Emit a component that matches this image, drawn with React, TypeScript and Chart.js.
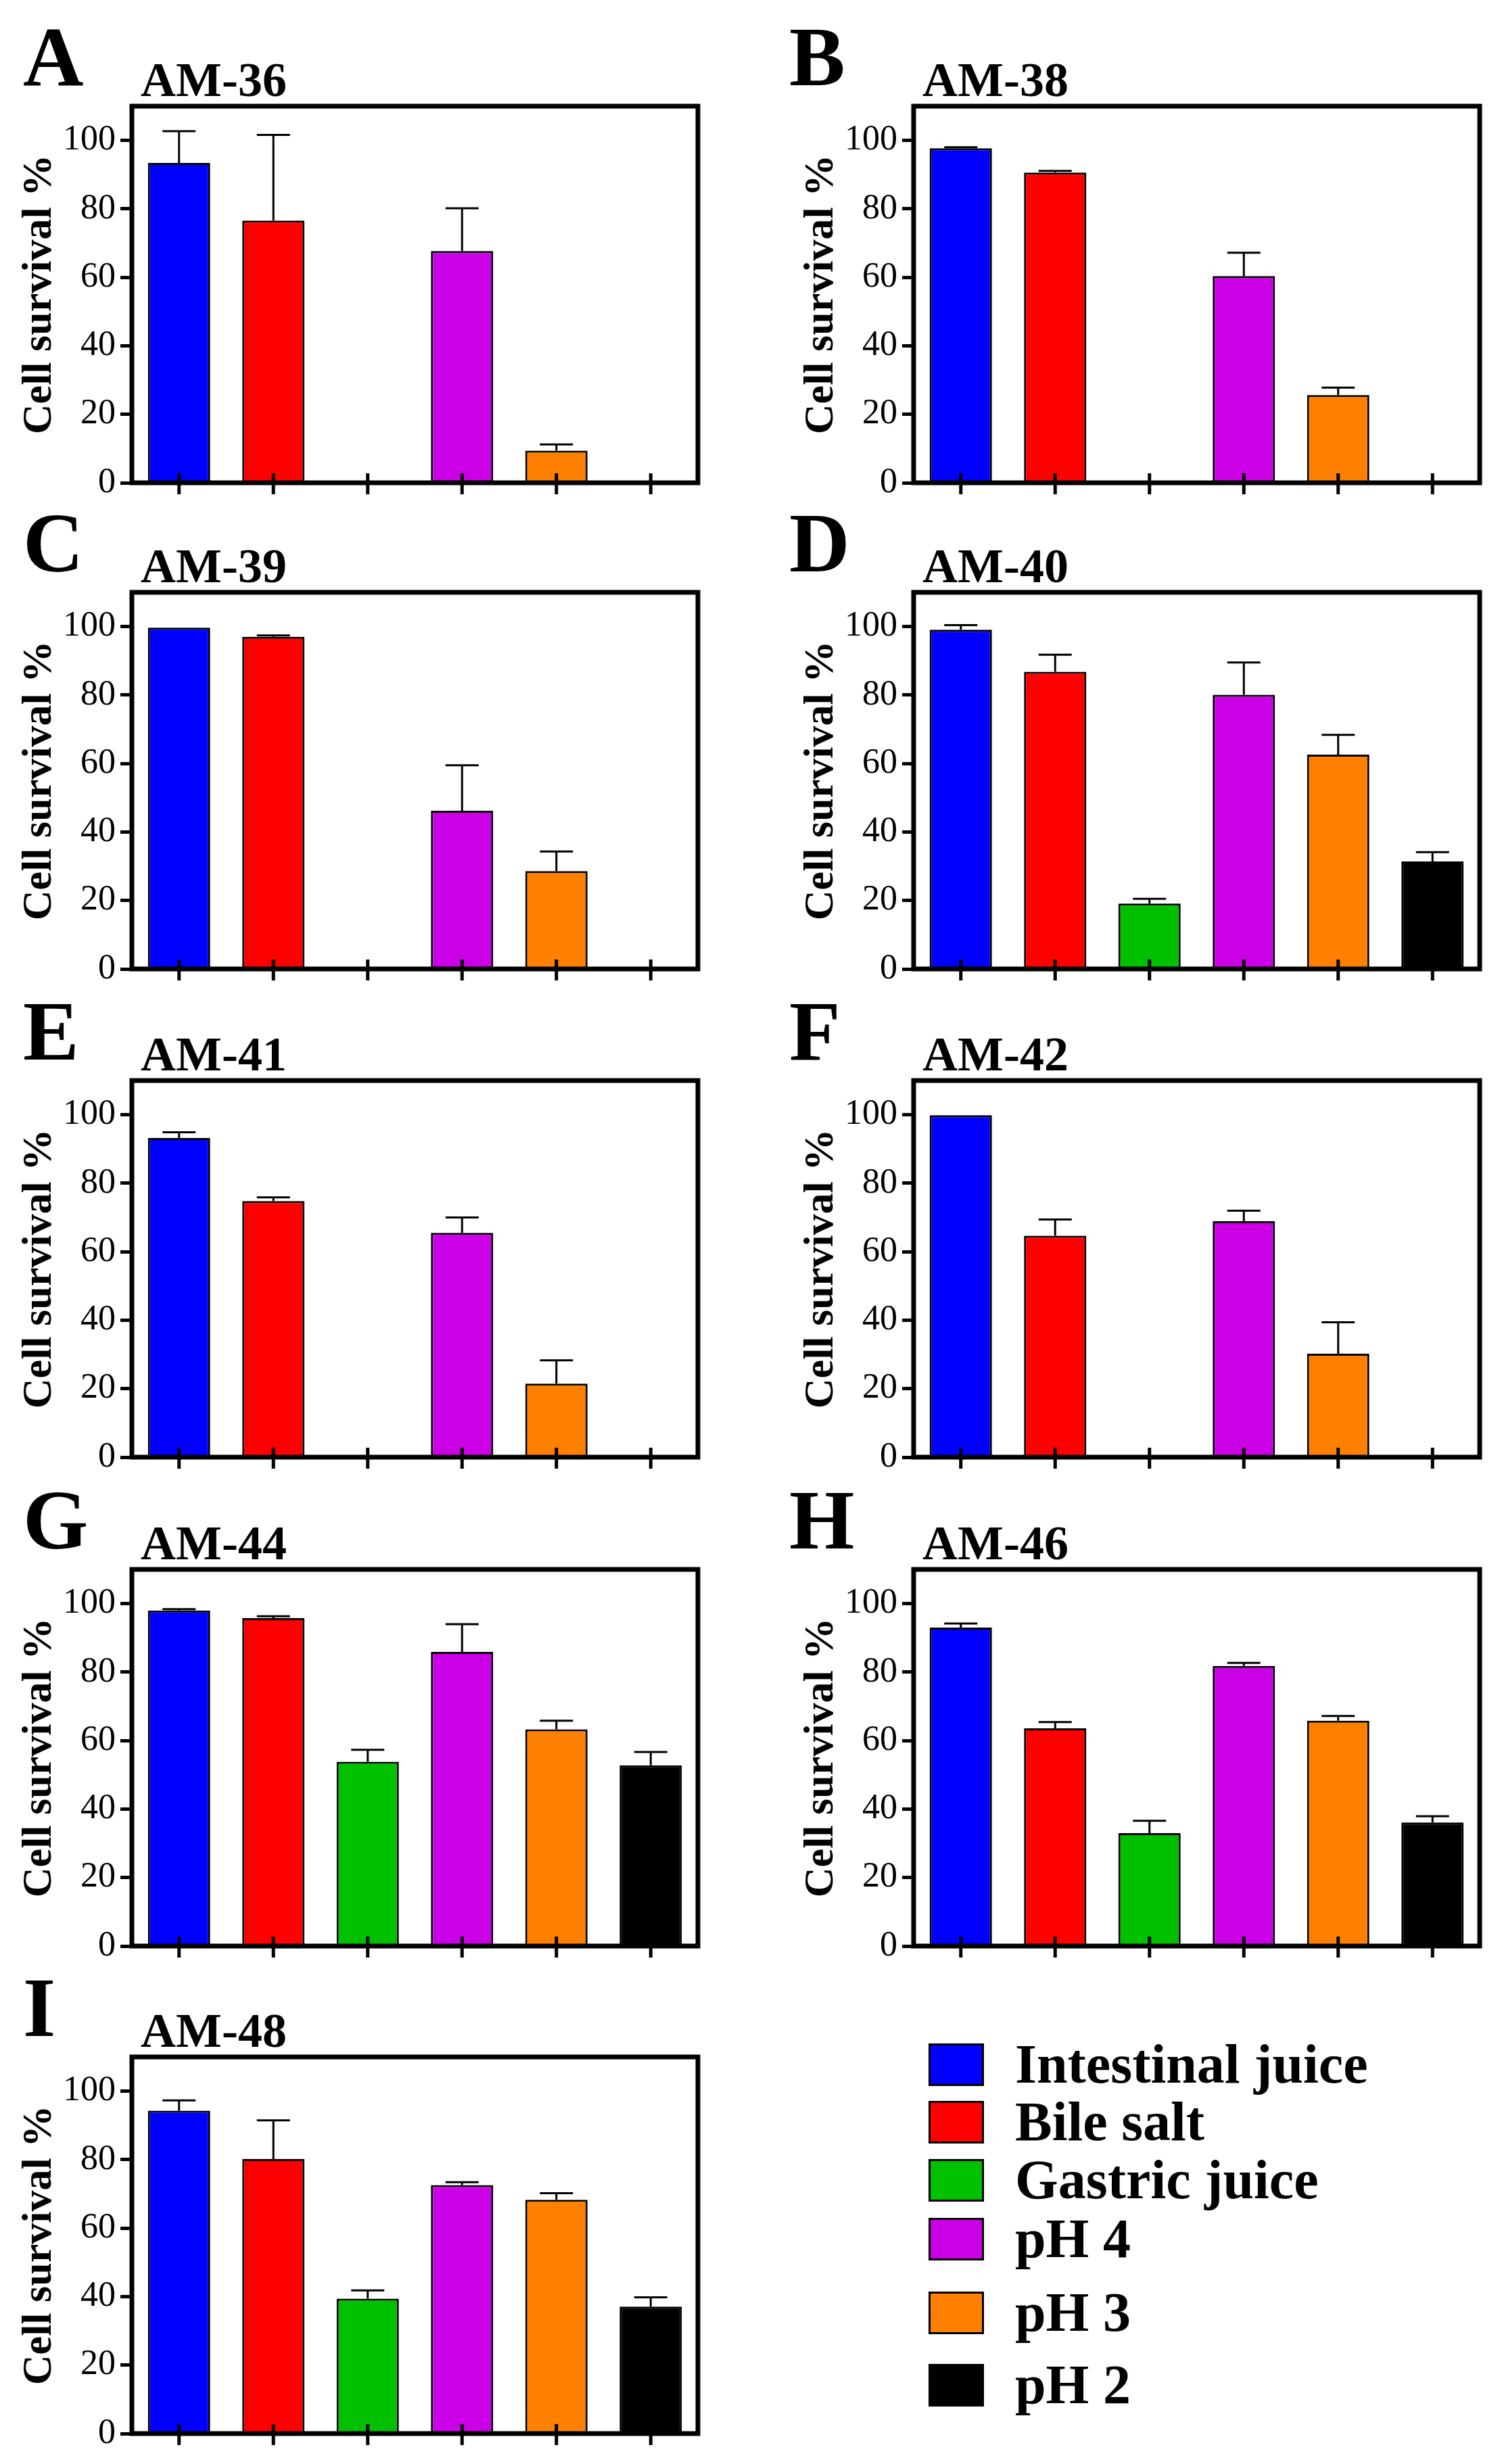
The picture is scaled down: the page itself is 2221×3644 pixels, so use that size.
import { useEffect, useRef } from "react"
import { Chart, registerables } from "chart.js"

Chart.register(...registerables)

const FONT = '"Liberation Serif", "Times New Roman", serif'

// conditions (x categories) and their colours
const categories = ["Intestinal juice", "Bile salt", "Gastric juice", "pH 4", "pH 3", "pH 2"]
const barColors = ["#0000ff", "#ff0000", "#00c000", "#cc00e6", "#ff8000", "#000000"]
const yTicks = [0, 20, 40, 60, 80, 100]

// mean cell survival % and upper error (SD) per strain
const am36 = [93.4, 76.6, null, 67.7, 9.4, null]
const am36Err = [9.3, 25.0, null, 12.5, 1.8, null]
const am38 = [97.7, 90.6, null, 60.4, 25.6, null]
const am38Err = [0.3, 0.5, null, 6.8, 2.2, null]
const am39 = [99.7, 97.0, null, 46.2, 28.6, null]
const am39Err = [0, 0.4, null, 13.3, 5.7, null]
const am40 = [99.1, 86.8, 19.1, 80.1, 62.6, 31.4]
const am40Err = [1.3, 5.0, 1.4, 9.4, 5.8, 2.7]
const am41 = [93.2, 74.8, null, 65.5, 21.5, null]
const am41Err = [1.7, 1.1, null, 4.5, 6.8, null]
const am42 = [99.9, 64.7, null, 68.9, 30.2, null]
const am42Err = [0, 4.7, null, 3.1, 9.2, null]
const am44 = [98.0, 95.8, 53.8, 85.9, 63.3, 52.8]
const am44Err = [0.4, 0.5, 3.5, 8.1, 2.5, 3.9]
const am46 = [93.0, 63.6, 33.0, 81.8, 65.8, 36.1]
const am46Err = [1.2, 1.8, 3.6, 0.9, 1.4, 1.8]
const am48 = [94.3, 80.2, 39.4, 72.6, 68.3, 37.1]
const am48Err = [3.0, 11.3, 2.4, 0.8, 1.9, 2.7]

const panels = [
  { letter: "A", title: "AM-36", values: am36, errors: am36Err, col: 0, row: 0 },
  { letter: "B", title: "AM-38", values: am38, errors: am38Err, col: 1, row: 0 },
  { letter: "C", title: "AM-39", values: am39, errors: am39Err, col: 0, row: 1 },
  { letter: "D", title: "AM-40", values: am40, errors: am40Err, col: 1, row: 1 },
  { letter: "E", title: "AM-41", values: am41, errors: am41Err, col: 0, row: 2 },
  { letter: "F", title: "AM-42", values: am42, errors: am42Err, col: 1, row: 2 },
  { letter: "G", title: "AM-44", values: am44, errors: am44Err, col: 0, row: 3 },
  { letter: "H", title: "AM-46", values: am46, errors: am46Err, col: 1, row: 3 },
  { letter: "I", title: "AM-48", values: am48, errors: am48Err, col: 0, row: 4 },
]

const ROW_TOPS = [157, 876, 1598, 2321, 3042]
const CANVAS_W = 1065
const AREA_TOP = 157
const AREA_BOTTOM = 714
const AREA_LEFT = 195
const X_AXIS_H = 70
const CANVAS_H = AREA_BOTTOM + X_AXIS_H

// box, crossing x ticks, error bars and panel captions
const panelDecor = {
  id: "panelDecor",
  afterDatasetsDraw(chart: any, _args: any, opts: any) {
    const { ctx } = chart
    const yScale = chart.scales.y
    const meta = chart.getDatasetMeta(0)
    ctx.save()
    ctx.strokeStyle = "#000"
    ctx.lineWidth = 3
    meta.data.forEach((bar: any, i: number) => {
      const v = opts.values[i]
      const e = opts.errors[i]
      if (v == null || e == null || e <= 0) return
      const top = yScale.getPixelForValue(v + e)
      ctx.beginPath()
      ctx.moveTo(bar.x, bar.y)
      ctx.lineTo(bar.x, top)
      ctx.moveTo(bar.x - 24.5, top)
      ctx.lineTo(bar.x + 24.5, top)
      ctx.stroke()
    })
    ctx.restore()
  },
  afterDraw(chart: any, _args: any, opts: any) {
    const { ctx, chartArea } = chart
    const xScale = chart.scales.x
    ctx.save()
    ctx.strokeStyle = "#000"
    ctx.lineWidth = 7
    ctx.strokeRect(chartArea.left, chartArea.top, chartArea.right - chartArea.left, chartArea.bottom - chartArea.top)
    ctx.lineWidth = 5
    categories.forEach((_c, i) => {
      const x = xScale.getPixelForValue(i)
      ctx.beginPath()
      ctx.moveTo(x, chartArea.bottom - 14)
      ctx.lineTo(x, chartArea.bottom + 17)
      ctx.stroke()
    })
    ctx.fillStyle = "#000"
    ctx.textBaseline = "alphabetic"
    ctx.textAlign = "left"
    ctx.font = `bold 124px ${FONT}`
    ctx.fillText(opts.letter, opts.letterX, chartArea.top - 31)
    ctx.font = `bold 72px ${FONT}`
    ctx.fillText(opts.title, chartArea.left + 13, chartArea.top - 15)
    ctx.restore()
  },
}

interface PanelProps {
  letter: string
  title: string
  values: (number | null)[]
  errors: (number | null)[]
  col: number
  row: number
}

function Panel({ letter, title, values, errors, col, row }: PanelProps) {
  const canvasRef = useRef<HTMLCanvasElement>(null)
  const chartInstance = useRef<Chart | null>(null)

  useEffect(() => {
    if (!canvasRef.current) return
    if (chartInstance.current) chartInstance.current.destroy()

    chartInstance.current = new Chart(canvasRef.current, {
      type: "bar",
      data: {
        labels: categories,
        datasets: [
          {
            data: values as any,
            backgroundColor: barColors,
            borderColor: "#000",
            borderWidth: 3,
            barPercentage: 0.66,
            categoryPercentage: 1,
          },
        ],
      },
      options: {
        animation: false,
        responsive: false,
        devicePixelRatio: 1,
        layout: { padding: { left: 0, top: AREA_TOP, right: CANVAS_W - 1032, bottom: 0 } },
        plugins: {
          legend: { display: false },
          tooltip: { enabled: false },
          panelDecor: { letter, title, values, errors, letterX: col === 0 ? 34 : 11 },
        } as any,
        scales: {
          x: {
            type: "category",
            grid: { display: false },
            border: { display: false },
            ticks: { display: false },
            afterFit: (s: any) => {
              s.height = X_AXIS_H
            },
          },
          y: {
            min: 0,
            max: 110,
            afterBuildTicks: (s: any) => {
              s.ticks = yTicks.map((v) => ({ value: v }))
            },
            ticks: {
              color: "#000",
              padding: 7,
              font: { family: FONT, size: 52 },
            },
            grid: {
              drawOnChartArea: false,
              tickLength: 17,
              tickWidth: 5,
              color: "#000",
            },
            border: { display: false },
            title: {
              display: true,
              text: "Cell survival %",
              color: "#000",
              font: { family: FONT, size: 62, weight: "bold" },
              padding: { top: 22, bottom: 0 },
            },
            afterFit: (s: any) => {
              s.width = AREA_LEFT
            },
          },
        },
      },
      plugins: [panelDecor],
    })

    return () => {
      if (chartInstance.current) {
        chartInstance.current.destroy()
        chartInstance.current = null
      }
    }
  }, [letter, title, values, errors, col])

  return (
    <canvas
      ref={canvasRef}
      width={CANVAS_W}
      height={CANVAS_H}
      style={{
        position: "absolute",
        left: col === 0 ? 0 : 1156,
        top: ROW_TOPS[row] - AREA_TOP,
        width: CANVAS_W,
        height: CANVAS_H,
      }}
    />
  )
}

const legendTops = [3022, 3107, 3193, 3280, 3389, 3496]

function Legend() {
  return (
    <>
      {categories.map((name, i) => (
        <div key={name}>
          <div
            style={{
              position: "absolute",
              left: 1373,
              top: legendTops[i],
              width: 82,
              height: 63,
              boxSizing: "border-box",
              border: "3px solid #000",
              background: barColors[i],
            }}
          />
          <div
            style={{
              position: "absolute",
              left: 1501,
              top: legendTops[i] - 10,
              fontFamily: FONT,
              fontWeight: "bold",
              fontSize: 82,
              lineHeight: "82px",
              whiteSpace: "nowrap",
              color: "#000",
            }}
          >
            {name}
          </div>
        </div>
      ))}
    </>
  )
}

export default function App() {
  return (
    <div
      style={{
        position: "absolute",
        left: 0,
        top: 0,
        width: 2221,
        height: 3644,
        background: "#fff",
        overflow: "hidden",
      }}
    >
      {panels.map((p) => (
        <Panel key={p.letter} {...p} />
      ))}
      <Legend />
    </div>
  )
}
